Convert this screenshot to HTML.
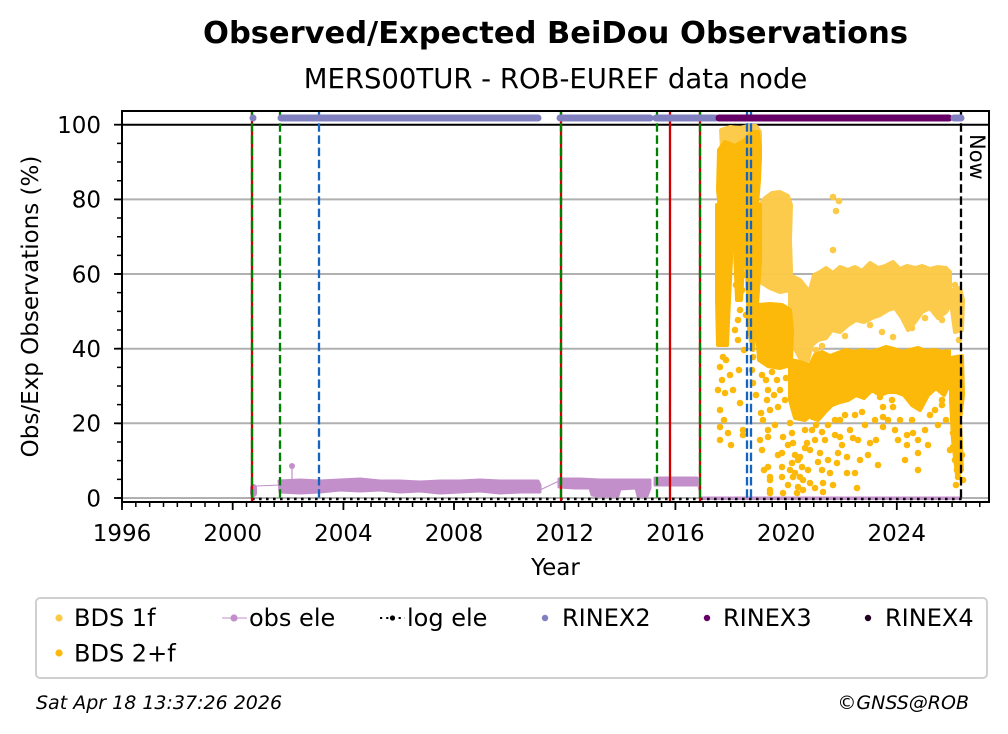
<!DOCTYPE html>
<html><head><meta charset="utf-8"><style>
html,body{margin:0;padding:0;background:#fff;}
svg{display:block;font-family:"DejaVu Sans","Liberation Sans",sans-serif;}
</style></head><body>
<svg width="1008" height="734" viewBox="0 0 1008 734" xmlns="http://www.w3.org/2000/svg">
<rect width="1008" height="734" fill="#fff"/>
<!-- titles -->
<text x="555.5" y="43" font-size="30.5" font-weight="bold" text-anchor="middle">Observed/Expected BeiDou Observations</text>
<text x="555.5" y="88" font-size="27.5" text-anchor="middle">MERS00TUR - ROB-EUREF data node</text>

<!-- gridlines -->
<g stroke="#b0b0b0" stroke-width="2">
<line x1="122" y1="498" x2="989" y2="498"/>
<line x1="122" y1="423.3" x2="989" y2="423.3"/>
<line x1="122" y1="348.7" x2="989" y2="348.7"/>
<line x1="122" y1="274" x2="989" y2="274"/>
<line x1="122" y1="199.4" x2="989" y2="199.4"/>
</g>
<line x1="122" y1="124.7" x2="989" y2="124.7" stroke="#000" stroke-width="2"/>

<!-- BDS 1f dense -->
<g fill="#fdca47" stroke="#fdca47" stroke-width="4" stroke-linejoin="round" opacity="0.97">
<polygon points="721,130 730,127 740,128 748,126 756,126 760,132 760,160 758,190 745,170 732,160 722,150"/>
<polygon points="760,205 765,198 772,193 780,192 788,196 791,205 790,240 791,270 790,290 780,292 770,288 762,283 760,250"/>
<polygon points="790,275 800,280 808,290 812,300 812,345 808,360 800,358 793,345 790,320"/>
<polygon points="810,290 814,275 820,272 826,268 833,273 840,267 848,270 855,267 862,271 870,263 878,268 885,266 893,262 900,269 907,266 915,268 922,266 930,269 938,267 946,268 950,272 950,305 946,312 938,318 930,308 922,312 915,322 908,330 902,318 895,308 888,310 880,315 872,318 864,322 856,320 848,325 840,332 832,330 826,338 818,340 812,345"/>
<polygon points="952,290 960,288 963,300 962,330 955,332 952,310"/>
<ellipse cx="725" cy="252" rx="6" ry="10"/>
</g>
<g fill="#fdca47">
<circle cx="833" cy="197" r="3.3"/><circle cx="839" cy="201" r="3.3"/><circle cx="836" cy="211" r="3.3"/><circle cx="833" cy="250" r="3.3"/>
<circle cx="942" cy="320" r="3.3"/><circle cx="882" cy="332" r="3.3"/><circle cx="893" cy="337" r="3.3"/><circle cx="833" cy="320" r="3.3"/>
<circle cx="955" cy="285" r="3.3"/><circle cx="959" cy="340" r="3.3"/>
<circle cx="816" cy="350" r="3.3"/><circle cx="822" cy="346" r="3.3"/><circle cx="845" cy="336" r="3.3"/><circle cx="870" cy="325" r="3.3"/>
<circle cx="912" cy="328" r="3.3"/><circle cx="925" cy="318" r="3.3"/>
</g>

<!-- BDS 2+f dense -->
<g fill="#fdb909" stroke="#fdb909" stroke-width="4" stroke-linejoin="round">
<polygon points="719,150 725,142 735,146 745,140 752,132 758,132 760,150 759,180 757,205 750,212 740,208 730,212 720,210 718,190"/>
<polygon points="717,205 733,205 731,260 729,300 727,345 718,345 717,300"/>
<polygon points="734,205 746,205 744,250 741,300 737,300 735,250"/>
<polygon points="746,205 760,205 760,260 756,320 753,350 749,330 747,270"/>
<polygon points="758,305 770,304 782,305 790,310 792,330 791,365 780,368 768,366 759,360 757,330"/>
<polygon points="790,360 800,362 810,365 812,380 811,415 805,420 795,418 790,400"/>
<polygon points="810,365 815,355 822,352 830,356 838,353 846,350 854,352 862,350 870,352 878,350 886,347 894,349 902,352 910,350 918,348 926,351 934,350 942,352 949,351 949,385 944,395 936,388 928,395 920,410 912,405 904,395 896,392 888,392 880,395 872,390 864,398 856,395 848,400 840,402 832,405 825,412 818,420 812,418"/>
<polygon points="951,358 962,356 963,395 960,420 962,470 957,475 953,440 951,400"/>
</g>
<g fill="#fdb909">
<circle cx="720" cy="367" r="3.3"/><circle cx="718" cy="390" r="3.3"/><circle cx="725" cy="393" r="3.3"/><circle cx="720" cy="410" r="3.3"/>
<circle cx="720" cy="427" r="3.3"/><circle cx="720" cy="440" r="3.3"/><circle cx="728" cy="433" r="3.3"/><circle cx="723" cy="357" r="3.3"/>
<circle cx="739" cy="370" r="3.3"/><circle cx="740" cy="403" r="3.3"/><circle cx="743" cy="430" r="3.3"/><circle cx="743" cy="435" r="3.3"/>
<circle cx="738" cy="340" r="3.3"/><circle cx="738" cy="320" r="3.3"/><circle cx="742" cy="290" r="3.3"/><circle cx="740" cy="310" r="3.3"/>
<circle cx="752" cy="340" r="3.3"/><circle cx="753" cy="357" r="3.3"/><circle cx="753" cy="383" r="3.3"/>
<circle cx="761" cy="413" r="3.3"/><circle cx="760" cy="440" r="3.3"/><circle cx="762" cy="450" r="3.3"/><circle cx="767" cy="400" r="3.3"/>
<circle cx="768" cy="390" r="3.3"/><circle cx="770" cy="410" r="3.3"/><circle cx="768" cy="430" r="3.3"/><circle cx="770" cy="477" r="3.3"/>
<circle cx="770" cy="490" r="3.3"/><circle cx="782" cy="467" r="3.3"/><circle cx="782" cy="477" r="3.3"/><circle cx="780" cy="390" r="3.3"/>
<circle cx="778" cy="407" r="3.3"/><circle cx="790" cy="423" r="3.3"/><circle cx="792" cy="463" r="3.3"/><circle cx="793" cy="477" r="3.3"/>
<circle cx="800" cy="477" r="3.3"/><circle cx="800" cy="457" r="3.3"/><circle cx="803" cy="490" r="3.3"/><circle cx="807" cy="443" r="3.3"/>
<circle cx="810" cy="450" r="3.3"/><circle cx="808" cy="470" r="3.3"/><circle cx="792" cy="433" r="3.3"/>
<circle cx="768" cy="437" r="3.3"/><circle cx="768" cy="467" r="3.3"/><circle cx="770" cy="480" r="3.3"/><circle cx="770" cy="493" r="3.3"/>
<circle cx="782" cy="453" r="3.3"/><circle cx="783" cy="437" r="3.3"/><circle cx="783" cy="493" r="3.3"/><circle cx="793" cy="443" r="3.3"/>
<circle cx="798" cy="460" r="3.3"/><circle cx="795" cy="473" r="3.3"/><circle cx="797" cy="493" r="3.3"/><circle cx="802" cy="467" r="3.3"/>
<circle cx="803" cy="480" r="3.3"/><circle cx="810" cy="483" r="3.3"/><circle cx="805" cy="448" r="3.3"/><circle cx="798" cy="487" r="3.3"/>
<circle cx="820" cy="453" r="3.3"/><circle cx="822" cy="470" r="3.3"/><circle cx="823" cy="483" r="3.3"/><circle cx="823" cy="492" r="3.3"/>
<circle cx="828" cy="460" r="3.3"/><circle cx="830" cy="473" r="3.3"/><circle cx="837" cy="463" r="3.3"/><circle cx="838" cy="453" r="3.3"/>
<circle cx="840" cy="437" r="3.3"/><circle cx="847" cy="457" r="3.3"/><circle cx="847" cy="473" r="3.3"/><circle cx="855" cy="473" r="3.3"/>
<circle cx="857" cy="488" r="3.3"/><circle cx="853" cy="438" r="3.3"/><circle cx="870" cy="443" r="3.3"/><circle cx="883" cy="427" r="3.3"/>
<circle cx="883" cy="417" r="3.3"/><circle cx="895" cy="430" r="3.3"/><circle cx="907" cy="435" r="3.3"/><circle cx="907" cy="445" r="3.3"/>
<circle cx="913" cy="433" r="3.3"/><circle cx="918" cy="440" r="3.3"/><circle cx="918" cy="453" r="3.3"/><circle cx="918" cy="470" r="3.3"/>
<circle cx="942" cy="400" r="3.3"/><circle cx="942" cy="405" r="3.3"/><circle cx="953" cy="447" r="3.3"/><circle cx="955" cy="460" r="3.3"/>
<circle cx="957" cy="470" r="3.3"/><circle cx="958" cy="477" r="3.3"/><circle cx="953" cy="433" r="3.3"/><circle cx="957" cy="413" r="3.3"/>
<circle cx="880" cy="397" r="3.3"/><circle cx="892" cy="400" r="3.3"/><circle cx="893" cy="407" r="3.3"/><circle cx="883" cy="407" r="3.3"/>
<circle cx="835" cy="420" r="3.3"/><circle cx="845" cy="415" r="3.3"/><circle cx="862" cy="412" r="3.3"/><circle cx="875" cy="420" r="3.3"/>
<circle cx="900" cy="420" r="3.3"/><circle cx="930" cy="415" r="3.3"/><circle cx="938" cy="425" r="3.3"/>
<circle cx="736" cy="225" r="3.3"/><circle cx="742" cy="235" r="3.3"/><circle cx="738" cy="260" r="3.3"/><circle cx="744" cy="275" r="3.3"/>
<circle cx="736" cy="285" r="3.3"/><circle cx="746" cy="315" r="3.3"/><circle cx="735" cy="330" r="3.3"/><circle cx="744" cy="350" r="3.3"/>
<circle cx="726" cy="360" r="3.3"/><circle cx="730" cy="375" r="3.3"/><circle cx="722" cy="380" r="3.3"/><circle cx="733" cy="390" r="3.3"/>
<circle cx="724" cy="420" r="3.3"/><circle cx="731" cy="445" r="3.3"/><circle cx="752" cy="370" r="3.3"/><circle cx="756" cy="395" r="3.3"/>
<circle cx="762" cy="375" r="3.3"/><circle cx="766" cy="380" r="3.3"/><circle cx="772" cy="372" r="3.3"/><circle cx="777" cy="380" r="3.3"/>
<circle cx="786" cy="378" r="3.3"/><circle cx="774" cy="395" r="3.3"/><circle cx="785" cy="400" r="3.3"/><circle cx="763" cy="420" r="3.3"/>
<circle cx="775" cy="425" r="3.3"/><circle cx="788" cy="445" r="3.3"/><circle cx="778" cy="455" r="3.3"/><circle cx="764" cy="470" r="3.3"/>
<circle cx="790" cy="470" r="3.3"/><circle cx="795" cy="455" r="3.3"/><circle cx="805" cy="430" r="3.3"/><circle cx="812" cy="430" r="3.3"/>
<circle cx="815" cy="440" r="3.3"/><circle cx="818" cy="462" r="3.3"/><circle cx="825" cy="440" r="3.3"/><circle cx="828" cy="425" r="3.3"/>
<circle cx="835" cy="435" r="3.3"/><circle cx="842" cy="445" r="3.3"/><circle cx="850" cy="430" r="3.3"/><circle cx="858" cy="440" r="3.3"/>
<circle cx="860" cy="460" r="3.3"/><circle cx="865" cy="425" r="3.3"/><circle cx="868" cy="455" r="3.3"/><circle cx="876" cy="440" r="3.3"/>
<circle cx="878" cy="465" r="3.3"/><circle cx="888" cy="420" r="3.3"/><circle cx="898" cy="440" r="3.3"/><circle cx="905" cy="460" r="3.3"/>
<circle cx="912" cy="420" r="3.3"/><circle cx="925" cy="430" r="3.3"/><circle cx="928" cy="445" r="3.3"/><circle cx="935" cy="410" r="3.3"/>
<circle cx="946" cy="420" r="3.3"/><circle cx="950" cy="450" r="3.3"/><circle cx="962" cy="455" r="3.3"/><circle cx="963" cy="480" r="3.3"/>
<circle cx="956" cy="485" r="3.3"/><circle cx="788" cy="485" r="3.3"/><circle cx="815" cy="488" r="3.3"/><circle cx="833" cy="485" r="3.3"/>
<circle cx="816" cy="425" r="3.3"/><circle cx="822" cy="432" r="3.3"/><circle cx="840" cy="420" r="3.3"/><circle cx="855" cy="415" r="3.3"/>
</g>

<!-- obs ele -->
<g fill="#c38fcb" stroke="#c38fcb">
<rect x="250" y="484" width="7" height="13" rx="3.5" stroke="none"/>
<line x1="256" y1="486" x2="280" y2="485" stroke-width="1"/>
<line x1="292" y1="466" x2="292" y2="482" stroke-width="1.2"/>
<circle cx="292" cy="466" r="3" stroke="none"/>
<polygon stroke-width="3" stroke-linejoin="round" points="279,481 300,480 320,481 340,480 360,479 380,481 400,481 420,482 440,481 460,481 480,480 500,481 520,481 538,481 540,485 540,492 520,492 500,493 480,491 460,492 440,493 420,491 400,492 380,490 360,491 340,490 320,492 300,493 280,492"/>
<line x1="540" y1="490" x2="559" y2="481" stroke-width="1"/>
<polygon stroke-width="3" stroke-linejoin="round" points="559,479 580,479 600,480 620,480 640,480 650,480 650,488 647,496 638,496 636,488 620,489 618,496 600,496 592,495 590,488 575,488 559,487"/>
<polygon stroke-width="3" stroke-linejoin="round" points="655,478 697,478 697,485 655,485"/>
<line x1="697" y1="483" x2="701" y2="497" stroke-width="1"/>
<rect x="700" y="496.5" width="261" height="3.5" stroke="none"/>
</g>
<!-- log ele -->
<line x1="252" y1="499" x2="962" y2="499" stroke="#000" stroke-width="2.4" stroke-dasharray="2.6 4.4"/>

<!-- vertical lines -->
<g stroke-width="2.3" fill="none">
<g stroke="#d00000">
<line x1="252" y1="111" x2="252" y2="502"/><line x1="561" y1="111" x2="561" y2="502"/>
<line x1="670" y1="111" x2="670" y2="502"/><line x1="700" y1="111" x2="700" y2="502"/>
</g>
<g stroke="#008000" stroke-dasharray="8.5 3.7">
<line x1="252" y1="111" x2="252" y2="502"/><line x1="280" y1="111" x2="280" y2="502"/>
<line x1="561" y1="111" x2="561" y2="502"/><line x1="657" y1="111" x2="657" y2="502"/>
<line x1="700" y1="111" x2="700" y2="502"/>
</g>
<g stroke="#1565c0" stroke-dasharray="8.5 3.7">
<line x1="319" y1="111" x2="319" y2="502"/><line x1="747" y1="111" x2="747" y2="502"/>
<line x1="751" y1="111" x2="751" y2="502"/>
</g>
<line x1="961" y1="111" x2="961" y2="502" stroke="#000" stroke-dasharray="8.5 3.7"/>
</g>

<!-- RINEX markers -->
<g stroke-width="7" stroke-linecap="round">
<line x1="253" y1="118" x2="253" y2="118" stroke="#8080c0"/>
<line x1="281" y1="118" x2="538" y2="118" stroke="#8080c0"/>
<line x1="560" y1="118" x2="650" y2="118" stroke="#8080c0"/>
<line x1="656" y1="118" x2="716" y2="118" stroke="#8080c0"/>
<line x1="719" y1="118" x2="949" y2="118" stroke="#660066"/>
<line x1="954" y1="118" x2="961" y2="118" stroke="#8080c0"/>
</g>

<!-- Now -->
<text transform="translate(970,134) rotate(90)" font-size="21">Now</text>

<!-- axes frame -->
<rect x="122" y="111" width="867" height="391" fill="none" stroke="#000" stroke-width="2"/>
<!-- x ticks -->
<line x1="121.25" y1="504.5" x2="990" y2="504.5" stroke="#000" stroke-width="5" stroke-dasharray="1.5 12.335"/>
<g stroke="#000" stroke-width="1.8">
<line x1="122" y1="502" x2="122" y2="510"/><line x1="232.7" y1="502" x2="232.7" y2="510"/>
<line x1="343.4" y1="502" x2="343.4" y2="510"/><line x1="454" y1="502" x2="454" y2="510"/>
<line x1="564.7" y1="502" x2="564.7" y2="510"/><line x1="675.4" y1="502" x2="675.4" y2="510"/>
<line x1="786.1" y1="502" x2="786.1" y2="510"/><line x1="896.8" y1="502" x2="896.8" y2="510"/>
</g>
<g font-size="23" text-anchor="middle">
<text x="122" y="541">1996</text><text x="232.7" y="541">2000</text><text x="343.4" y="541">2004</text>
<text x="454" y="541">2008</text><text x="564.7" y="541">2012</text><text x="675.4" y="541">2016</text>
<text x="786.1" y="541">2020</text><text x="896.8" y="541">2024</text>
</g>
<text x="555.5" y="575" font-size="23" text-anchor="middle">Year</text>
<!-- y ticks -->
<line x1="119.5" y1="498.75" x2="119.5" y2="111" stroke="#000" stroke-width="5" stroke-dasharray="1.5 17.165"/>
<g stroke="#000" stroke-width="1.8">
<line x1="114" y1="498" x2="122" y2="498"/><line x1="114" y1="423.3" x2="122" y2="423.3"/>
<line x1="114" y1="348.7" x2="122" y2="348.7"/><line x1="114" y1="274" x2="122" y2="274"/>
<line x1="114" y1="199.4" x2="122" y2="199.4"/><line x1="114" y1="124.7" x2="122" y2="124.7"/>
</g>
<g font-size="23" text-anchor="end">
<text x="101" y="506.3">0</text><text x="101" y="431.6">20</text><text x="101" y="357">40</text>
<text x="101" y="282.3">60</text><text x="101" y="207.7">80</text><text x="101" y="133">100</text>
</g>
<text transform="translate(38,306.5) rotate(-90)" font-size="23" text-anchor="middle">Obs/Exp Observations (%)</text>

<!-- legend -->
<rect x="36" y="598" width="951" height="80" rx="4" fill="#fff" stroke="#d0d0d0" stroke-width="2"/>
<g font-size="24">
<circle cx="59" cy="618" r="3.6" fill="#fdca47"/><text x="74" y="626">BDS 1f</text>
<circle cx="59" cy="653" r="3.6" fill="#fdb909"/><text x="74" y="661.5">BDS 2+f</text>
<line x1="222" y1="618" x2="247" y2="618" stroke="#c38fcb" stroke-width="1"/><circle cx="234" cy="618" r="3.6" fill="#c38fcb"/><text x="249" y="626">obs ele</text>
<line x1="380" y1="618" x2="405" y2="618" stroke="#000" stroke-width="2" stroke-dasharray="2.2 4"/><circle cx="392.5" cy="618" r="2.6" fill="#000"/><text x="407" y="626">log ele</text>
<circle cx="545" cy="618" r="3.2" fill="#8080c0"/><text x="562" y="626">RINEX2</text>
<circle cx="707" cy="618" r="3.2" fill="#660066"/><text x="723" y="626">RINEX3</text>
<circle cx="868" cy="618" r="3.2" fill="#220022"/><text x="885" y="626">RINEX4</text>
</g>

<!-- footer -->
<text x="36" y="709" font-size="19" font-style="italic">Sat Apr 18 13:37:26 2026</text>
<text x="969" y="709" font-size="19" font-style="italic" text-anchor="end">©GNSS@ROB</text>
</svg>
</body></html>
